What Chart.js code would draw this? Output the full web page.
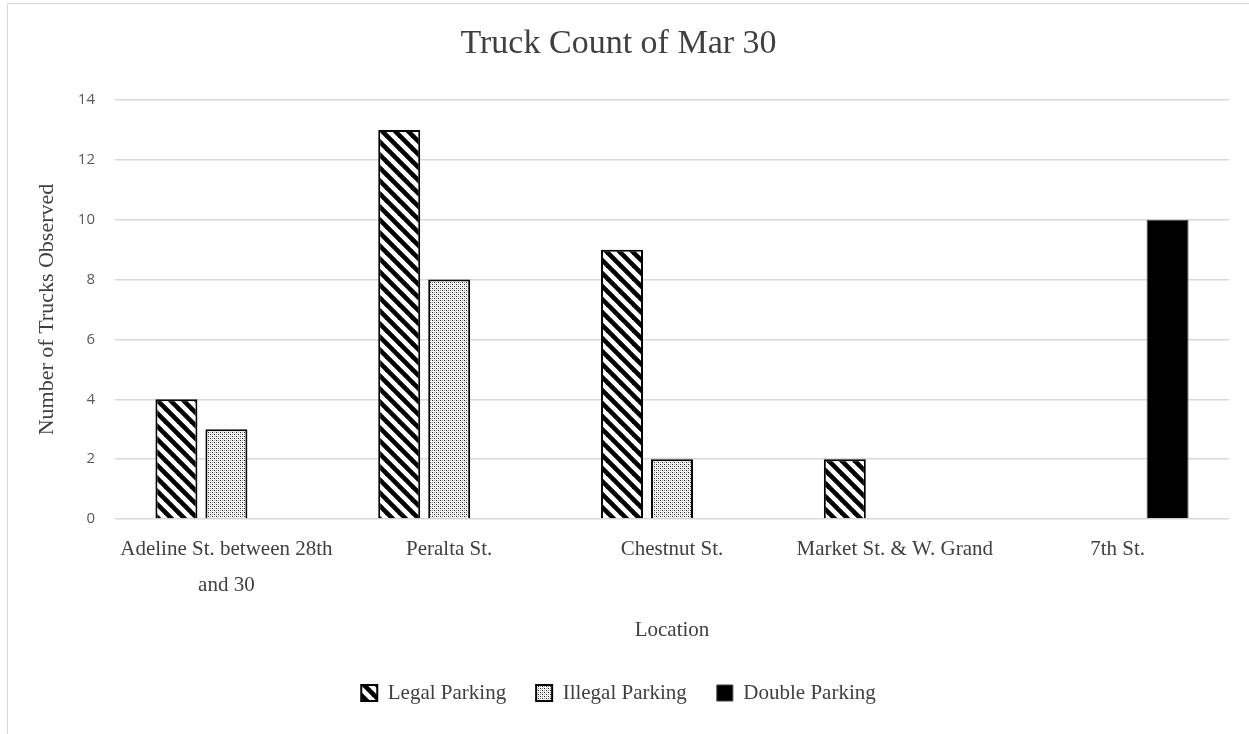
<!DOCTYPE html>
<html>
<head>
<meta charset="utf-8">
<script src="https://cdn.jsdelivr.net/npm/chart.js@4"></script>
<style>
  html, body { margin: 0; padding: 0; background: #fff; overflow: hidden; }
  #wrap { position: absolute; left: 7px; top: 3px; width: 1241px; height: 730px;
          border-left: 1px solid #d9d9d9; border-top: 1px solid #d9d9d9; }
</style>
</head>
<body>
<div id="wrap"><canvas id="c"></canvas></div>
<script>
const categories = [['Adeline St. between 28th', 'and 30'], 'Peralta St.', 'Chestnut St.', 'Market St. & W. Grand', '7th St.'];
const legalParking = [4, 13, 9, 2, 0];
const illegalParking = [3, 8, 2, 0, 0];
const doubleParking = [0, 0, 0, 0, 10];
const yTicks = [0, 2, 4, 6, 8, 10, 12, 14];

function stripePattern() {
  const s = 13, c = document.createElement('canvas');
  c.width = s; c.height = s;
  const g = c.getContext('2d');
  g.fillStyle = '#fff'; g.fillRect(0, 0, s, s);
  g.strokeStyle = '#000'; g.lineWidth = 4.6;
  for (const k of [-s, 0, s]) {
    g.beginPath(); g.moveTo(k - s, -s); g.lineTo(k + 2 * s, 2 * s); g.stroke();
  }
  return g.createPattern(c, 'repeat');
}
function dotPattern() {
  const c = document.createElement('canvas');
  c.width = 4; c.height = 4;
  const g = c.getContext('2d');
  g.fillStyle = '#fff'; g.fillRect(0, 0, 4, 4);
  g.fillStyle = '#222';
  g.fillRect(0, 0, 1, 1); g.fillRect(2, 2, 1, 1);
  g.fillStyle = '#999';
  g.fillRect(0, 2, 1, 1); g.fillRect(2, 0, 1, 1);
  g.fillStyle = '#d8d8d8';
  g.fillRect(1, 1, 1, 1); g.fillRect(3, 3, 1, 1);
  return g.createPattern(c, 'repeat');
}

const serif = "'Liberation Serif', 'DejaVu Serif', serif";
const textColor = '#404040';

new Chart(document.getElementById('c'), {
  type: 'bar',
  data: {
    labels: categories,
    datasets: [
      { label: 'Legal Parking', data: legalParking, backgroundColor: stripePattern(), borderColor: '#000', borderWidth: 2 },
      { label: 'Illegal Parking', data: illegalParking, backgroundColor: dotPattern(), borderColor: '#000', borderWidth: 2 },
      { label: 'Double Parking', data: doubleParking, backgroundColor: '#000', borderColor: '#404040', borderWidth: 1 }
    ]
  },
  options: {
    responsive: true,
    maintainAspectRatio: false,
    animation: false,
    devicePixelRatio: 1,
    categoryPercentage: 0.673,
    barPercentage: 0.84,
    layout: { padding: { left: 0, right: 20, top: 0, bottom: 20.5 } },
    plugins: {
      title: {
        display: true,
        text: 'Truck Count of Mar 30',
        color: textColor,
        font: { family: serif, size: 34, weight: 'normal' },
        padding: { top: 19.5, bottom: 35.7 }
      },
      legend: {
        position: 'bottom',
        labels: {
          color: textColor,
          font: { family: serif, size: 21 },
          boxWidth: 16, boxHeight: 16,
          padding: 30
        }
      },
      tooltip: { enabled: false }
    },
    scales: {
      x: {
        afterFit: (axis) => { axis.height = 133.5; },
        grid: { display: false },
        border: { display: false },
        ticks: {
          color: textColor,
          font: { family: serif, size: 21, lineHeight: 1.714 },
          padding: 4,
          maxRotation: 0, autoSkip: false
        },
        title: {
          display: true, text: 'Location', color: textColor,
          font: { family: serif, size: 21 },
          padding: { top: 4, bottom: 9 }
        }
      },
      y: {
        min: 0, max: 14,
        afterBuildTicks: (axis) => { axis.ticks = yTicks.map(v => ({ value: v })); },
        afterFit: (axis) => { axis.width = 107; },
        grid: { color: '#d9d9d9', lineWidth: 1.5, drawTicks: false },
        border: { display: false },
        ticks: {
          color: '#595959',
          font: { family: "'Open Sans', sans-serif", size: 15 },
          padding: 20
        },
        title: {
          display: true, text: 'Number of Trucks Observed', color: textColor,
          font: { family: serif, size: 22 },
          padding: { top: 26, bottom: 4 }
        }
      }
    }
  }
});
</script>
</body>
</html>
